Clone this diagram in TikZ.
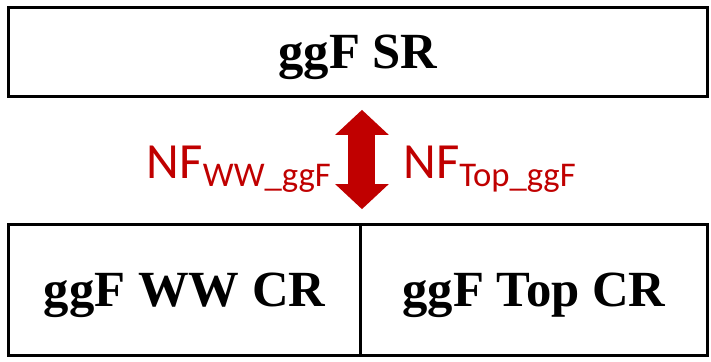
\documentclass[tikz,border=0pt]{standalone}
\usepackage{fontspec}
\setmainfont{Liberation Serif}
\newfontfamily\labelfont{Carlito}
\usepackage{xcolor}
\definecolor{NFRed}{RGB}{192, 0, 0}
\usetikzlibrary{arrows.meta, positioning}

\begin{document}
\begin{tikzpicture}[
        x=0.75pt, y=-0.75pt,
        region/.style={rectangle, draw=black, line width=2.25pt, outer sep=0pt, inner sep=0pt, text depth=0pt, font=\fontsize{38}{40}\selectfont\bfseries},
        nflabel/.style={text=NFRed, inner sep=0pt, font=\labelfont\fontsize{38}{40}\selectfont},
        bigarrow/.style={draw=NFRed, line width=20.25pt, {Triangle[width=39pt,length=18.75pt]}-{Triangle[width=39pt,length=18.75pt]}}
    ]
        \useasboundingbox (0,0) rectangle (711,361);

        \node[region, minimum width=524.25pt, minimum height=66.75pt] (sr) at (358,52) {ggF SR};
        \node[region, minimum width=264pt, minimum height=98.25pt] (ww) at (184.5,290) {ggF WW CR};
        \node[region, minimum width=260.25pt, minimum height=98.25pt, right=0pt of ww] (top) {ggF Top CR};

        \draw[bigarrow, shorten <=10pt, shorten >=11.5pt] ([xshift=1.1pt]sr.south -| ww.north east) -- ([xshift=1.1pt]ww.north east);

        \node[nflabel, anchor=base east] (nfww) at (331,178) {NF\raisebox{-6pt}{\fontsize{26}{26}\selectfont WW\_ggF}};
        \node[nflabel, anchor=base west] (nftop) at (403,178) {NF\raisebox{-6pt}{\fontsize{26}{26}\selectfont Top\_ggF}};
    \end{tikzpicture}
\end{document}
